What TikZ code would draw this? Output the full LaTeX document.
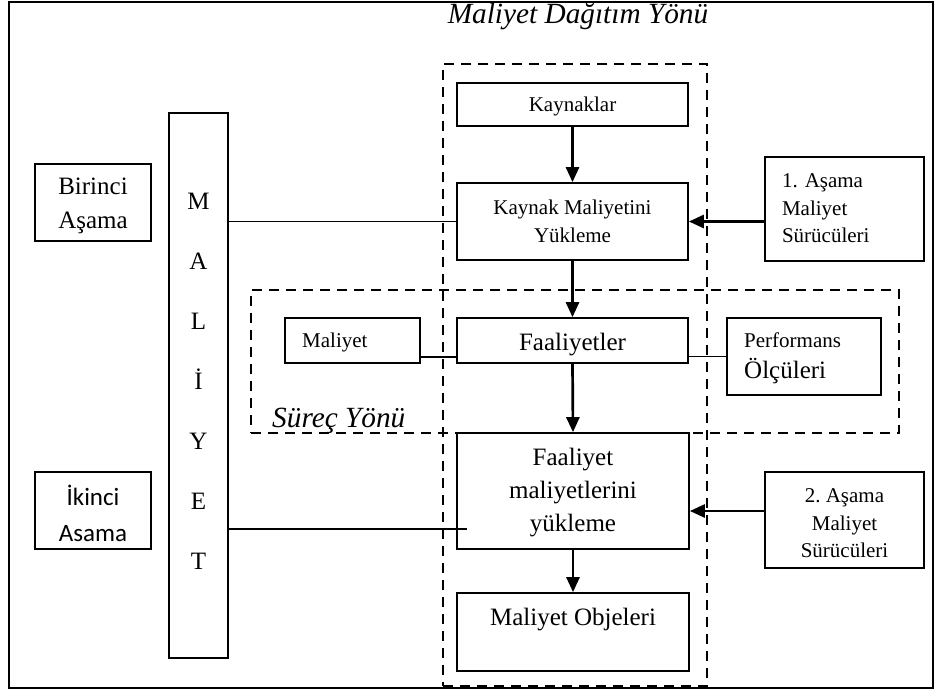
\documentclass[tikz,border=0pt]{standalone}
\usepackage{fontspec}
\setmainfont{Liberation Serif}
\newfontfamily\calibrifont{Carlito}
\usetikzlibrary{arrows.meta}
\frenchspacing
\begin{document}
\begin{tikzpicture}[x=1pt,y=-1pt,
  box/.style={draw, line width=1.7pt, inner sep=0pt, rectangle},
  grp/.style={draw, line width=2.4pt, dash pattern=on 10pt off 7pt, inner sep=0pt, rectangle},
  flow/.style={line width=2.7pt, -{Triangle[length=15pt,width=13pt]}},
  link/.style={line width=1.3pt},
  txt/.style={inner sep=0pt, align=center},
  fsmall/.style={font=\fontsize{21}{27.5}\selectfont},
  fbig/.style={font=\fontsize{25}{33}\selectfont},
  ftitle/.style={font=\fontsize{29.3}{34}\selectfont\itshape}]

\useasboundingbox (0,0) rectangle (934,691);
\draw[line width=1.8pt] (9,2) rectangle (933,688);

% direction labels
\node[txt, ftitle, anchor=base] (title) at (578,23) {Maliyet Dağıtım Yönü};

% dashed groups
\node[grp, minimum width=264pt, minimum height=622pt] (dagitim) at (575,375) {};
\node[grp, minimum width=648pt, minimum height=143pt] (surec) at (575,361.5) {};
\node[txt, ftitle, anchor=base west] (surectxt) at (272,427) {Süreç Yönü};

% left column
\node[box, minimum width=116pt, minimum height=77pt] (bir) at (93,202.5) {};
\node[txt, font=\fontsize{25}{34}\selectfont] (birtxt) at (93,206) {Birinci\\Aşama};
\node[box, minimum width=116pt, minimum height=77pt] (iki) at (93,510.5) {};
\node[txt, font=\calibrifont\fontsize{25}{36}\selectfont] (ikitxt) at (93,513.5) {İkinci\\Asama};

\node[box, minimum width=59pt, minimum height=545pt] (bar) at (198.5,385.5) {};
\node[txt, font=\fontsize{25}{60}\selectfont] (bartxt) at (198.5,381.7) {M\\A\\L\\İ\\Y\\E\\T};

% central chain
\node[box, minimum width=231pt, minimum height=43pt] (kay) at (572.5,104.5) {};
\node[txt, fsmall, anchor=base] (kaytxt) at (572.5,111.7) {Kaynaklar};

\node[box, minimum width=231pt, minimum height=77pt] (kml) at (572.5,221.5) {};
\node[txt, font=\fontsize{21}{28}\selectfont] (kmltxt) at (572.5,221.5) {Kaynak Maliyetini\\Yükleme};

\node[box, minimum width=231pt, minimum height=45pt] (faal) at (572.5,340.5) {};
\node[txt, fbig, anchor=base] (faaltxt) at (572.5,350) {Faaliyetler};

\node[box, minimum width=232pt, minimum height=116pt] (fml) at (573,491) {};
\node[txt, fbig] (fmltxt) at (573,493) {Faaliyet\\maliyetlerini\\yükleme};

\node[box, minimum width=232pt, minimum height=78pt] (obj) at (573,632) {};
\node[txt, fbig, anchor=base] (objtxt) at (573,625) {Maliyet Objeleri};

% process row
\node[box, minimum width=135pt, minimum height=45pt] (mal) at (352.5,340.5) {};
\node[txt, fsmall, anchor=base west] (maltxt) at (302,347) {Maliyet};

\node[box, minimum width=154pt, minimum height=77pt] (perf) at (804,356.5) {};
\node[txt, font=\fontsize{25}{31}\selectfont, align=left, anchor=west] (perftxt) at (744,358)
  {{\fontsize{21}{31}\selectfont Performans}\\Ölçüleri};

% cost drivers
\node[box, minimum width=159pt, minimum height=104pt] (s1) at (844.5,209) {};
\node[txt, font=\fontsize{21}{27.5}\selectfont, align=left, text width=125pt] (s1txt) at (844.5,208.6)
  {1. Aşama\\Maliyet\\Sürücüleri};

\node[box, minimum width=159pt, minimum height=96pt] (s2) at (844.5,520) {};
\node[txt, fsmall] (s2txt) at (844.5,523.5) {2. Aşama\\Maliyet\\Sürücüleri};

% connectors
\draw[flow] (kay.south) -- (kml.north);
\draw[flow] (kml.south) -- (faal.north);
\draw[flow] (faal.south) -- (fml.north);
\draw[flow] (fml.south) -- (obj.north);

\draw[flow] (s1.west |- kml.east) -- (kml.east);
\coordinate (s2in) at ([yshift=-20pt]fml.east);
\draw[flow] (s2.west |- s2in) -- (s2in);

\draw[link] (bar.east |- kml.west) -- (kml.west);
\coordinate (fmlin) at ([xshift=11pt,yshift=-38pt]fml.west);
\draw[link] (bar.east |- fmlin) -- (fmlin);

\draw[link] ([yshift=-16.5pt]mal.east) -- ([yshift=-16.5pt]faal.west);
\draw[link] (faal.east |- perf.west) -- (perf.west);
\end{tikzpicture}
\end{document}
